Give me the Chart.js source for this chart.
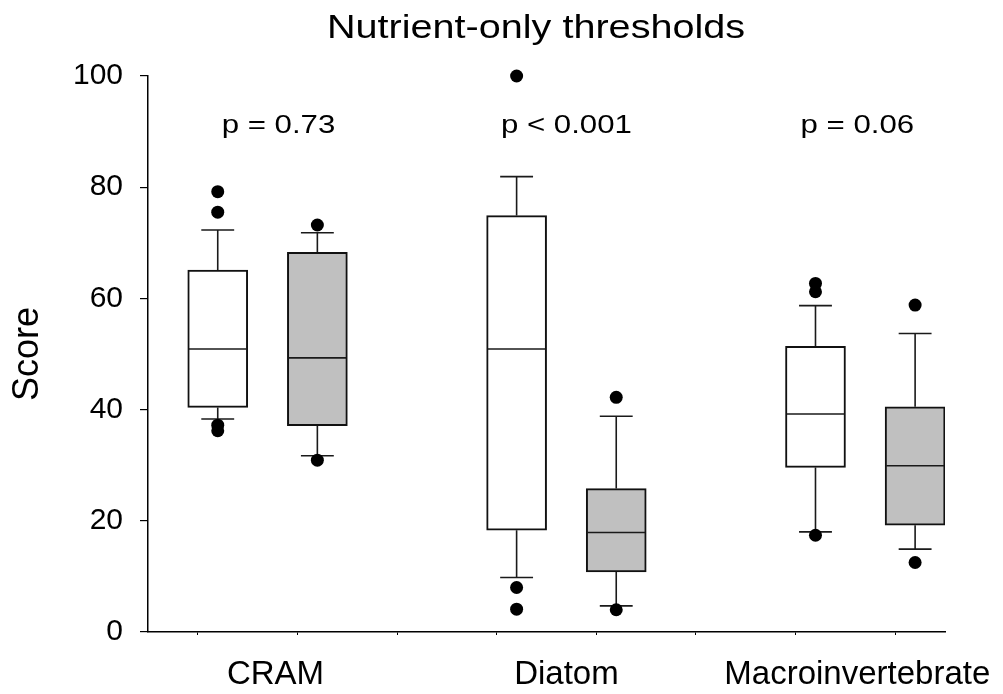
<!DOCTYPE html>
<html>
<head>
<meta charset="utf-8">
<title>Nutrient-only thresholds</title>
<script src="https://cdn.jsdelivr.net/npm/chart.js@4.4.1/dist/chart.umd.min.js"></script>
<style>
  html, body { margin: 0; padding: 0; background: #fff; }
  #wrap { width: 1003px; height: 694px; }
</style>
</head>
<body>
<div id="wrap"><canvas id="scoreChart" width="1003" height="694"></canvas></div>
<script>
const FONT = "'Liberation Sans', Arial, Helvetica, sans-serif";

const categories = ['CRAM', 'Diatom', 'Macroinvertebrate'];
const categoryPos = [1.28, 4.2, 7.12];
const pLabels = ['p = 0.73', 'p < 0.001', 'p = 0.06'];
const pLabelPos = [1.31, 4.2, 7.12];
const pLabelY = 91.3;

// white boxes
const openPos = [0.7, 3.7, 6.7];
const openLow = [38.3, 9.8, 18.0];
const openQ1 = [40.4, 18.3, 29.6];
const openMedian = [50.9, 50.9, 39.2];
const openQ3 = [65.1, 74.9, 51.4];
const openHigh = [72.3, 81.9, 58.7];
const openOutliers = [[79.2, 75.5, 37.2, 36.2], [100, 8.0, 4.1], [62.7, 61.2, 17.4]];

// grey boxes
const shadedPos = [1.7, 4.7, 7.7];
const shadedLow = [31.7, 4.7, 14.9];
const shadedQ1 = [37.1, 10.8, 19.2];
const shadedMedian = [49.3, 17.9, 29.9];
const shadedQ3 = [68.3, 25.8, 40.5];
const shadedHigh = [71.8, 38.8, 53.7];
const shadedOutliers = [[73.2, 30.9], [42.2, 4.0], [58.8, 12.5]];

const yTicks = [0, 20, 40, 60, 80, 100];

const series = [
  { pos: openPos, low: openLow, q1: openQ1, med: openMedian, q3: openQ3, high: openHigh, out: openOutliers, fill: '#ffffff' },
  { pos: shadedPos, low: shadedLow, q1: shadedQ1, med: shadedMedian, q3: shadedQ3, high: shadedHigh, out: shadedOutliers, fill: '#c0c0c0' }
];

const BOX_WIDTH = 0.6;   // in x units
const CAP_WIDTH = 0.33;

const boxDatasets = series.map(s => ({
  type: 'bar',
  data: s.pos.map((p, i) => ({ x: p, y: [s.q1[i], s.q3[i]] })),
  backgroundColor: s.fill,
  borderColor: '#111111',
  borderWidth: 2,
  borderSkipped: false,
  barThickness: 60,
  grouped: false,
  order: 2
}));

const outlierDatasets = series.map(s => ({
  type: 'scatter',
  data: s.pos.flatMap((p, i) => s.out[i].map(v => ({ x: p, y: v }))),
  backgroundColor: '#000000',
  borderColor: '#000000',
  pointRadius: 6.5,
  pointBorderWidth: 0,
  clip: false,
  order: 0
}));

// text drawn a bit wider than the plain face
function wideText(ctx, text, x, y, size, stretch) {
  ctx.save();
  ctx.font = size + 'px ' + FONT;
  ctx.translate(x, y);
  ctx.scale(stretch, 1);
  ctx.fillText(text, 0, 0);
  ctx.restore();
}

// whiskers + caps behind the boxes, medians on top of them
const boxLines = {
  id: 'boxLines',
  beforeDatasetsDraw(chart) {
    const { ctx, scales: { x, y } } = chart;
    const capHalf = (x.getPixelForValue(CAP_WIDTH) - x.getPixelForValue(0)) / 2;
    ctx.save();
    ctx.strokeStyle = '#1a1a1a';
    ctx.lineWidth = 1.6;
    series.forEach(s => {
      s.pos.forEach((p, i) => {
        const cx = x.getPixelForValue(p);
        ctx.beginPath();
        ctx.moveTo(cx, y.getPixelForValue(s.q3[i]));
        ctx.lineTo(cx, y.getPixelForValue(s.high[i]));
        ctx.moveTo(cx - capHalf, y.getPixelForValue(s.high[i]));
        ctx.lineTo(cx + capHalf, y.getPixelForValue(s.high[i]));
        ctx.moveTo(cx, y.getPixelForValue(s.q1[i]));
        ctx.lineTo(cx, y.getPixelForValue(s.low[i]));
        ctx.moveTo(cx - capHalf, y.getPixelForValue(s.low[i]));
        ctx.lineTo(cx + capHalf, y.getPixelForValue(s.low[i]));
        ctx.stroke();
      });
    });
    ctx.restore();
  },
  afterDatasetsDraw(chart) {
    const { ctx, scales: { x, y } } = chart;
    const boxHalf = (x.getPixelForValue(BOX_WIDTH) - x.getPixelForValue(0)) / 2;
    ctx.save();
    ctx.strokeStyle = '#1a1a1a';
    ctx.lineWidth = 1.6;
    series.forEach(s => {
      s.pos.forEach((p, i) => {
        const cx = x.getPixelForValue(p);
        const my = y.getPixelForValue(s.med[i]);
        ctx.beginPath();
        ctx.moveTo(cx - boxHalf + 1, my);
        ctx.lineTo(cx + boxHalf - 1, my);
        ctx.stroke();
      });
    });
    ctx.restore();
  },
  afterDraw(chart) {
    const { ctx, scales: { x, y } } = chart;
    ctx.save();
    ctx.fillStyle = '#000000';
    ctx.textAlign = 'center';
    ctx.textBaseline = 'alphabetic';
    wideText(ctx, 'Nutrient-only thresholds', 536, 38, 33, 1.2);
    pLabels.forEach((t, i) => {
      wideText(ctx, t, x.getPixelForValue(pLabelPos[i]), y.getPixelForValue(pLabelY) + 9, 26, 1.2);
    });
    ctx.restore();
  }
};

// keep the plot edges where the layout padding puts them
function noSidePadding(s) {
  s.paddingLeft = 0;
  s.paddingRight = 0;
}

new Chart(document.getElementById('scoreChart'), {
  type: 'bar',
  data: { datasets: [...boxDatasets, ...outlierDatasets] },
  options: {
    responsive: false,
    animation: false,
    layout: { padding: { top: 76, right: 58, left: 0, bottom: 0 } },
    plugins: {
      legend: { display: false },
      tooltip: { enabled: false }
    },
    scales: {
      x: {
        type: 'linear',
        position: 'bottom',
        min: 0,
        max: 8,
        offset: false,
        weight: 0,
        ticks: { display: false, stepSize: 1 },
        grid: { drawOnChartArea: false, drawTicks: true, tickLength: 3, color: '#000000', lineWidth: 1 },
        border: { display: true, color: '#000000', width: 1.5 },
        afterFit: s => { s.height = 4; noSidePadding(s); }
      },
      x2: {
        type: 'linear',
        position: 'bottom',
        min: 0,
        max: 8,
        offset: false,
        weight: 1,
        afterBuildTicks: s => { s.ticks = categoryPos.map(v => ({ value: v })); },
        ticks: {
          autoSkip: false,
          maxRotation: 0,
          padding: 11,
          color: '#000000',
          font: { family: FONT, size: 33 },
          callback: (v, i) => categories[i]
        },
        grid: { display: false },
        border: { display: false },
        afterFit: s => { s.height = 58; noSidePadding(s); }
      },
      y: {
        min: 0,
        max: 100,
        afterBuildTicks: s => { s.ticks = yTicks.map(v => ({ value: v })); },
        ticks: {
          padding: 17,
          color: '#000000',
          font: { family: FONT, size: 30 }
        },
        grid: { drawOnChartArea: false, drawTicks: true, tickLength: 8, color: '#000000', lineWidth: 1.2 },
        border: { display: true, color: '#000000', width: 1.5 },
        title: {
          display: true,
          text: 'Score',
          color: '#000000',
          font: { family: FONT, size: 36 },
          padding: { top: 6, bottom: 0 }
        },
        afterFit: s => { s.width = 148; }
      }
    }
  },
  plugins: [boxLines]
});
</script>
</body>
</html>
